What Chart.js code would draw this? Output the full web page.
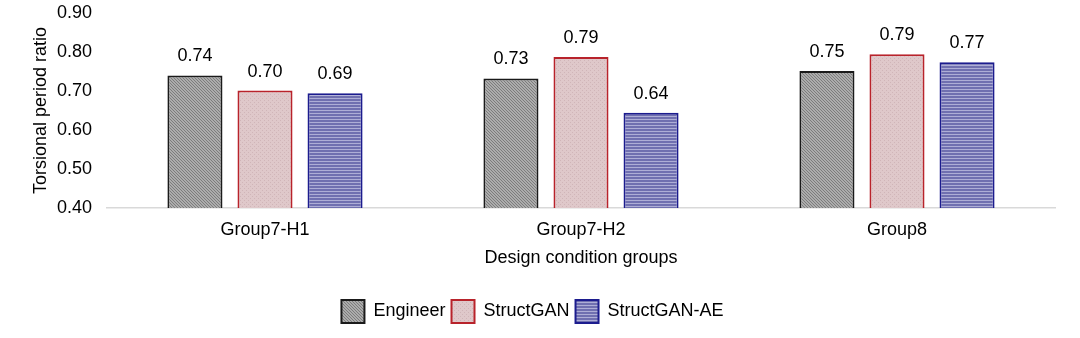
<!DOCTYPE html>
<html>
<head>
<meta charset="utf-8">
<script src="https://cdn.jsdelivr.net/npm/chart.js@4.4.1/dist/chart.umd.min.js"></script>
<style>
  html, body { margin: 0; padding: 0; background: #ffffff; }
  #wrap { width: 1080px; height: 338px; position: relative; }
</style>
</head>
<body>
<div id="wrap"><canvas id="c" width="1080" height="338"></canvas></div>
<script>
// ---- data ----
const categories = ["Group7-H1", "Group7-H2", "Group8"];
const seriesNames = ["Engineer", "StructGAN", "StructGAN-AE"];
const engineerValues = [0.740, 0.732, 0.751];
const structGanValues = [0.701, 0.787, 0.794];
const structGanAeValues = [0.694, 0.644, 0.774];
const yTicks = [0.40, 0.50, 0.60, 0.70, 0.80, 0.90];
const yTitle = "Torsional period ratio";
const xTitle = "Design condition groups";

// ---- patterns ----
function makePattern(size, drawFn) {
  const c = document.createElement('canvas');
  c.width = size; c.height = size;
  const g = c.getContext('2d');
  drawFn(g, size);
  return g.createPattern(c, 'repeat');
}
const ctxMain = document.getElementById('c').getContext('2d');
const engineerPattern = makePattern(3, (g, s) => {
  g.fillStyle = '#acacac'; g.fillRect(0, 0, s, s);
  g.fillStyle = '#7c7c7c';
  for (let i = 0; i < s; i++) g.fillRect(i, i, 1, 1);
});
const structGanPattern = makePattern(4, (g, s) => {
  g.fillStyle = '#dfc8ca'; g.fillRect(0, 0, s, s);
  g.fillStyle = '#d0b5b8';
  g.fillRect(0, 0, 1, 1); g.fillRect(2, 2, 1, 1);
});
const structGanAePattern = makePattern(3, (g, s) => {
  g.fillStyle = '#7070b0'; g.fillRect(0, 0, s, s);
  g.fillStyle = '#aeaed6'; g.fillRect(0, 2, s, 1);
});

const FONT = "'Liberation Sans', Arial, sans-serif";
const FS = 18;

const valueLabels = {
  id: 'valueLabels',
  afterDatasetsDraw(chart) {
    const ctx = chart.ctx;
    ctx.save();
    ctx.font = `${FS}px ${FONT}`;
    ctx.fillStyle = '#000';
    ctx.textAlign = 'center';
    ctx.textBaseline = 'middle';
    chart.data.datasets.forEach((ds, di) => {
      const meta = chart.getDatasetMeta(di);
      meta.data.forEach((el, i) => {
        ctx.fillText(ds.data[i].toFixed(2), el.x, el.y - 19);
      });
    });
    ctx.restore();
  }
};

new Chart(ctxMain, {
  type: 'bar',
  data: {
    labels: categories,
    datasets: [
      { label: seriesNames[0], data: engineerValues, backgroundColor: engineerPattern, borderColor: '#1a1a1a', borderWidth: 2, borderSkipped: false },
      { label: seriesNames[1], data: structGanValues, backgroundColor: structGanPattern, borderColor: '#b8232b', borderWidth: 2, borderSkipped: false },
      { label: seriesNames[2], data: structGanAeValues, backgroundColor: structGanAePattern, borderColor: '#1c1c8e', borderWidth: 2, borderSkipped: false }
    ]
  },
  options: {
    responsive: false,
    animation: false,
    events: [],
    categoryPercentage: 0.665,
    barPercentage: 0.786,
    layout: { padding: { top: 13, right: 25, left: 10, bottom: 5 } },
    plugins: {
      tooltip: { enabled: false },
      legend: {
        position: 'bottom',
        labels: {
          boxWidth: 23, boxHeight: 23, padding: 6,
          color: '#000',
          font: { family: FONT, size: FS }
        }
      }
    },
    scales: {
      x: {
        grid: { display: false, drawTicks: false },
        border: { display: true, color: '#d9d9d9', width: 1.5 },
        ticks: { color: '#000', font: { family: FONT, size: FS }, padding: 11 },
        title: { display: true, text: xTitle, color: '#000', font: { family: FONT, size: FS }, padding: { top: 0, bottom: 25 } },
        afterFit(scale) { scale.height = 86; }
      },
      y: {
        min: 0.4, max: 0.9,
        afterBuildTicks(scale) { scale.ticks = yTicks.map(v => ({ value: v })); },
        grid: { display: true, drawOnChartArea: false, drawTicks: true, tickLength: 15, color: 'rgba(0,0,0,0)' },
        border: { display: false },
        ticks: { color: '#000', font: { family: FONT, size: FS }, padding: 0, callback: v => Number(v).toFixed(2) },
        title: { display: true, text: yTitle, color: '#000', font: { family: FONT, size: FS }, padding: { top: 20, bottom: 0 } },
        afterFit(scale) { scale.width = 97; }
      }
    }
  },
  plugins: [valueLabels]
});
</script>
</body>
</html>
